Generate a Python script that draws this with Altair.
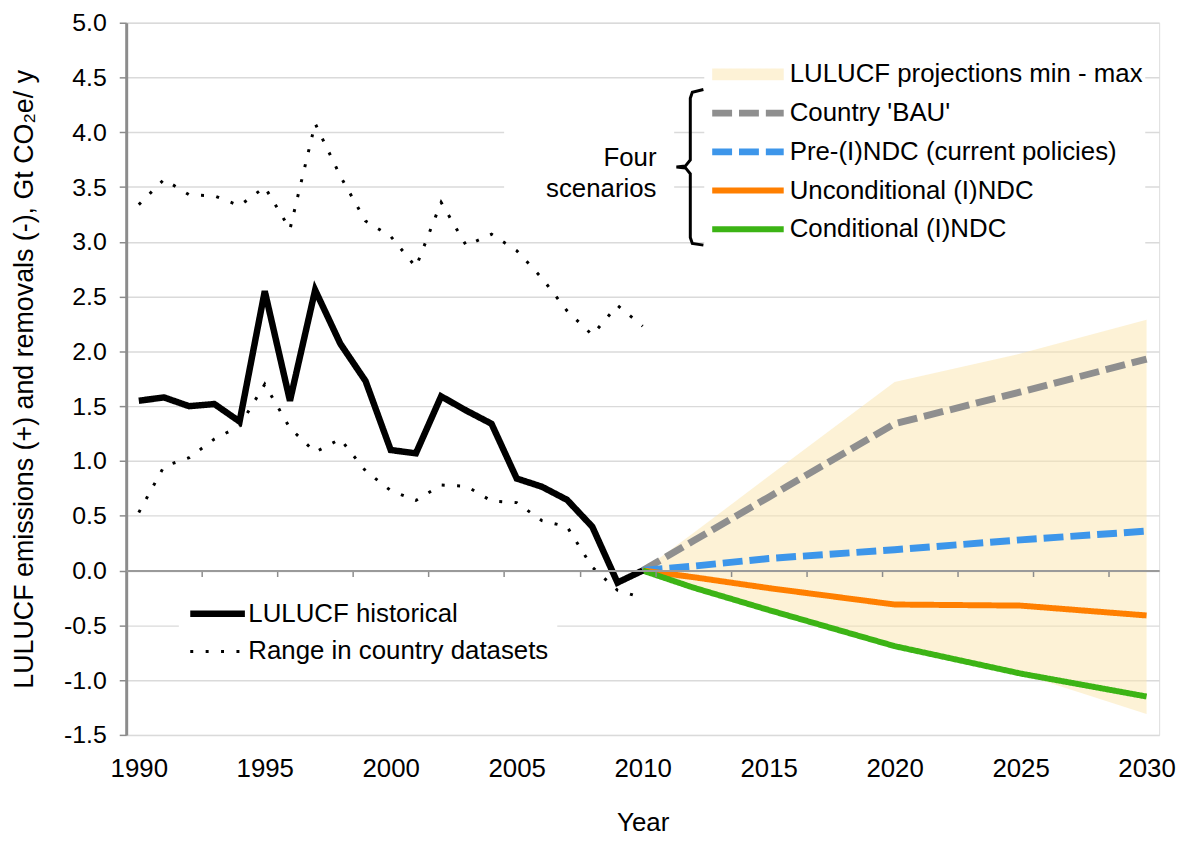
import altair as alt
import pandas as pd

FONT = "Liberation Sans"

# ---------------- data ----------------
HIST_YEARS = list(range(1990, 2011))
HIST = [1.55, 1.58, 1.50, 1.52, 1.36, 2.55, 1.55, 2.56, 2.07, 1.73, 1.10,
        1.07, 1.59, 1.46, 1.34, 0.84, 0.765, 0.645, 0.40, -0.11, 0.0]
RANGE_HIGH = [3.34, 3.57, 3.43, 3.42, 3.33, 3.50, 3.115, 4.08, 3.60, 3.19, 3.05,
              2.77, 3.36, 2.965, 3.07, 2.92, 2.67, 2.37, 2.15, 2.42, 2.23]
RANGE_LOW = [0.53, 0.95, 1.03, 1.20, 1.32, 1.70, 1.30, 1.08, 1.20, 0.91, 0.73,
             0.64, 0.78, 0.77, 0.635, 0.62, 0.455, 0.40, 0.03, -0.18, -0.25]

PROJ_YEARS = [2010, 2012, 2015, 2020, 2025, 2030]
BAND_MAX = [0.0, 0.34, 0.86, 1.72, 1.98, 2.29]
BAND_MIN = [0.0, -0.155, -0.36, -0.69, -0.94, -1.31]
BAU = [0.0, 0.27, 0.67, 1.34, 1.63, 1.93]
PRE_NDC = [0.0, 0.04, 0.11, 0.19, 0.28, 0.36]
UNCOND = [0.0, -0.06, -0.16, -0.31, -0.32, -0.41]
COND = [0.0, -0.155, -0.36, -0.69, -0.94, -1.15]

SCEN_NAMES = ["LULUCF projections min - max", "Country 'BAU'",
              "Pre-(I)NDC (current policies)", "Unconditional (I)NDC",
              "Conditional (I)NDC"]
HIST_NAMES = ["LULUCF historical", "Range in country datasets"]

Y_TICKS = [-1.5, -1.0, -0.5, 0.0, 0.5, 1.0, 1.5, 2.0, 2.5, 3.0, 3.5, 4.0, 4.5, 5.0]
X_LABEL_YEARS = [1990, 1995, 2000, 2005, 2010, 2015, 2020, 2025, 2030]
X_TICK_MARKS = [1992.5 + 3 * k for k in range(13)]

# annotation (data units)
NOTE_TEXT = ["Four", "scenarios"]
NOTE_X, NOTE_Y = 2010.55, 3.766
NOTE_BOX = dict(x=2004.5, x2=2011.25, y=3.25, y2=4.2)
BRACE_X = [2012.41, 2011.97, 2011.89, 2011.89, 2011.70, 2011.34,
           2011.70, 2011.89, 2011.89, 2011.97, 2012.41]
BRACE_Y = [4.39, 4.365, 4.31, 3.748, 3.693, 3.684, 3.675, 3.621,
           3.04, 2.985, 2.97]

# ---------------- styles ----------------
SCEN_COLORS = ["#FDF2D6", "#8F8F8F", "#3D96EA", "#FF7F00", "#3CB415"]
SCEN_DASH = [[1, 0], [20, 7], [20, 7], [1, 0], [1, 0]]
SCEN_WIDTH = [12, 7, 7, 6, 6]
HIST_COLORS = ["#000000", "#000000"]
HIST_DASH = [[1, 0], [3, 12.5]]
HIST_WIDTH = [6.5, 3]

W, H = 1040, 717
Y_MIN, Y_MAX = -1.5, 5.0
X_MIN, X_MAX = 1989.5, 2030.5
ZERO_OFFSET = -(H - H * (Y_MAX - 0) / (Y_MAX - Y_MIN))

# ---------------- tables ----------------
band_df = pd.DataFrame({"year": PROJ_YEARS, "lo": BAND_MIN, "hi": BAND_MAX})

proj_rows = []
for name, vals in zip(SCEN_NAMES[1:], [BAU, PRE_NDC, UNCOND, COND]):
    for yr, v in zip(PROJ_YEARS, vals):
        proj_rows.append({"year": yr, "value": v, "series": name})
proj_df = pd.DataFrame(proj_rows)

hist_rows = []
for part, name, vals in [("hist", HIST_NAMES[0], HIST),
                         ("high", HIST_NAMES[1], RANGE_HIGH),
                         ("low", HIST_NAMES[1], RANGE_LOW)]:
    for yr, v in zip(HIST_YEARS, vals):
        hist_rows.append({"year": yr, "value": v, "kind": name, "part": part})
hist_df = pd.DataFrame(hist_rows)

brace_df = pd.DataFrame({"year": BRACE_X, "value": BRACE_Y,
                         "i": list(range(len(BRACE_X)))})
box_df = pd.DataFrame([NOTE_BOX])
note_df = pd.DataFrame({"year": [NOTE_X], "value": [NOTE_Y]})

# ---------------- scales / axes ----------------
x_scale = alt.Scale(domain=[X_MIN, X_MAX], nice=False, zero=False)
y_scale = alt.Scale(domain=[Y_MIN, Y_MAX], nice=False, zero=False)

x_axis = alt.Axis(
    values=sorted(X_LABEL_YEARS + X_TICK_MARKS),
    labelExpr="datum.value % 5 == 0 ? format(datum.value, 'd') : ''",
    tickOpacity={"condition": {"test": "datum.value % 5 == 0", "value": 0}, "value": 1},
    labelFontSize=26, labelPadding=180, labelOverlap=False, labelFlush=False,
    tickSize=6, tickWidth=1.5, tickColor="#8c8c8c",
    domainColor="#9a9a9a", domainWidth=2, offset=ZERO_OFFSET,
    grid=False, title="Year", titleFontSize=26, titleY=261.5,
    titleBaseline="alphabetic", titleFontWeight="normal", zindex=1,
)
y_axis = alt.Axis(
    values=Y_TICKS,
    labelExpr="(datum.value < 0 ? '-' : '') + format(abs(datum.value), '.1f')",
    labelFontSize=25, labelPadding=13, tickSize=7, tickWidth=1.5,
    tickColor="#8c8c8c", domainColor="#8c8c8c", domainWidth=3,
    grid=True, gridColor="#dadada", gridWidth=1.5,
    title="LULUCF emissions (+) and removals (-), Gt CO\u2082e/ y",
    titleFontSize=27, titleX=-94.5, titleBaseline="alphabetic",
    titleFontWeight="normal",
)

X = alt.X("year:Q", scale=x_scale, axis=x_axis)
Y = alt.Y("value:Q", scale=y_scale, axis=y_axis)

leg_scen = alt.Legend(
    title=None, orient="none", legendX=582, legendY=37,
    symbolType="stroke", symbolSize=72 * 72, clipHeight=26, rowPadding=13,
    labelFontSize=26, labelFont=FONT, labelColor="black", labelOffset=0,
    labelLimit=600, fillColor="white", padding=2,
)
leg_hist = alt.Legend(
    title=None, orient="none", legendX=53, legendY=574,
    symbolType="stroke", symbolSize=55 * 55, clipHeight=26, rowPadding=12,
    labelFontSize=26, labelFont=FONT, labelColor="black", labelOffset=0,
    labelLimit=600, fillColor="white", padding=8,
)

# ---------------- layers ----------------
box = alt.Chart(box_df).mark_rect(color="white").encode(
    x=alt.X("x:Q", scale=x_scale, axis=x_axis), x2="x2:Q",
    y=alt.Y("y:Q", scale=y_scale, axis=y_axis), y2="y2:Q",
)

band = alt.Chart(band_df).mark_area(color="#FBE5AD", opacity=0.5).encode(
    x=X, y=alt.Y("hi:Q", scale=y_scale, axis=y_axis), y2="lo:Q",
)

proj = alt.Chart(proj_df).mark_line().encode(
    x=X, y=Y,
    color=alt.Color("series:N", scale=alt.Scale(domain=SCEN_NAMES, range=SCEN_COLORS),
                    legend=leg_scen),
    strokeDash=alt.StrokeDash("series:N", scale=alt.Scale(domain=SCEN_NAMES, range=SCEN_DASH),
                              legend=leg_scen),
    strokeWidth=alt.StrokeWidth("series:N",
                                scale=alt.Scale(type="ordinal", domain=SCEN_NAMES, range=SCEN_WIDTH),
                                legend=leg_scen),
)

hist = alt.Chart(hist_df).mark_line().encode(
    x=X, y=Y, detail="part:N",
    color=alt.Color("kind:N", scale=alt.Scale(domain=HIST_NAMES, range=HIST_COLORS),
                    legend=leg_hist),
    strokeDash=alt.StrokeDash("kind:N", scale=alt.Scale(domain=HIST_NAMES, range=HIST_DASH),
                              legend=leg_hist),
    strokeWidth=alt.StrokeWidth("kind:N",
                                scale=alt.Scale(type="ordinal", domain=HIST_NAMES, range=HIST_WIDTH),
                                legend=leg_hist),
)

brace = alt.Chart(brace_df).mark_line(color="black", strokeWidth=3).encode(
    x=X, y=Y, order="i:Q",
)

note = alt.Chart(note_df).mark_text(
    text=NOTE_TEXT, font=FONT, fontSize=26, color="black",
    align="right", baseline="middle", lineHeight=31,
).encode(x=X, y=Y)

chart = alt.layer(box, band, proj, hist, brace, note).resolve_scale(
    color="independent", strokeDash="independent", strokeWidth="independent"
).properties(
    width=W, height=H,
    autosize=alt.AutoSizeParams(type="none"),
    padding={"left": 119, "top": 12, "right": 25, "bottom": 104},
).configure_view(
    stroke="black", strokeWidth=2.5
).configure_axis(
    labelFont=FONT, titleFont=FONT, labelColor="black", titleColor="black",
    titleFontWeight="normal",
).configure(background="white")

chart.save("out.html", embed_options={"renderer": "svg", "actions": False})
